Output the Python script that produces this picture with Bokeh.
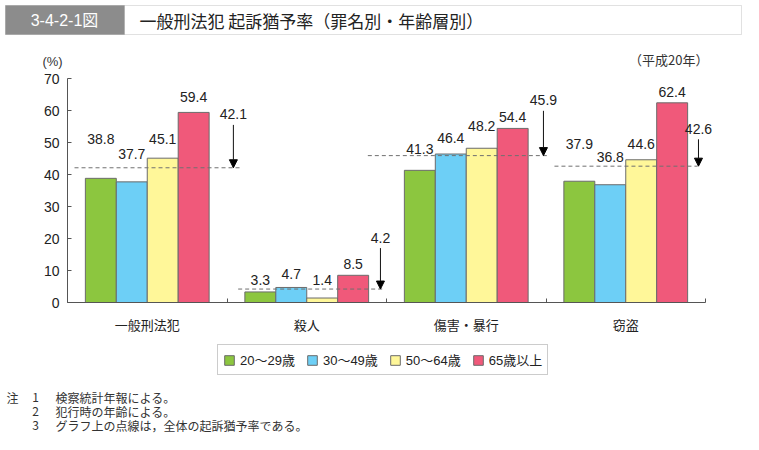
import numpy as np
from bokeh.plotting import figure
from bokeh.models import (Range1d, FixedTicker, ColumnDataSource, LabelSet, Label,
                          BoxAnnotation, Arrow, NormalHead, Legend, LegendItem)
from bokeh.core.properties import value
from bokeh.embed import file_html
from bokeh.resources import INLINE

# ---------------- data ----------------
categories = ["一般刑法犯", "殺人", "傷害・暴行", "窃盗"]
age_groups = ["20～29歳", "30～49歳", "50～64歳", "65歳以上"]
rate_20_29 = [38.8, 3.3, 41.3, 37.9]
rate_30_49 = [37.7, 4.7, 46.4, 36.8]
rate_50_64 = [45.1, 1.4, 48.2, 44.6]
rate_65_up = [59.4, 8.5, 54.4, 62.4]
overall_rate = [42.1, 4.2, 45.9, 42.6]
y_ticks = [0, 10, 20, 30, 40, 50, 60, 70]

series = [rate_20_29, rate_30_49, rate_50_64, rate_65_up]
colors = ["#8CC63F", "#6DCFF6", "#FFF799", "#F0597A"]

# ---------------- layout parameters ----------------
W, H = 743, 434
OFF = 0                                    # picture offset of the figure
PL, PR, PT, PB = 67, 705, 78, 302          # plot area in reference pixels
bar_w = 0.194
value_label_y = [[51.2, 6.9, 48.0, 49.4],
                 [46.5, 9.0, 51.4, 45.4],
                 [51.2, 6.9, 55.3, 49.4],
                 [64.2, 11.9, 57.9, 65.7]]
dash_x0 = [0.044, 0.07, -0.117, 0.053]     # offsets from category left edge
dash_x1 = [1.09, 0.975, 1.016, 0.95]
arrow_dx = [1.04, 0.962, 0.984, 0.956]
arrow_len = [13.4, 12.8, 14.0, 8.4]

NUM_FONT = "'Liberation Sans', 'Noto Sans CJK JP'"
JP_FONT = "'Noto Sans CJK JP'"

n_cat = len(categories)
px_x = (PR - PL) / float(n_cat)
px_y = (PB - PT) / 70.0
x_start = -(PL - OFF) / px_x
x_end = n_cat + (OFF + W - PR) / px_x
y_start = -(OFF + H - PB) / px_y
y_end = 70 + (PT - OFF) / px_y

def dx(rx):
    return x_start + (rx - OFF) / px_x
def dy(ry):
    return y_end - (ry - OFF) / px_y

p = figure(width=W, height=H, output_backend="svg", toolbar_location=None,
           x_range=Range1d(x_start, x_end), y_range=Range1d(y_start, y_end),
           min_border=0, min_border_left=0, min_border_right=0,
           min_border_top=0, min_border_bottom=0)
p.outline_line_color = None
p.xgrid.visible = False
p.ygrid.visible = False
p.background_fill_color = "white"
p.border_fill_color = "white"

cat_idx = np.arange(n_cat)
renderers = []
for j, vals in enumerate(series):
    src = ColumnDataSource(dict(x=cat_idx + 0.5 + (j - 1.5) * bar_w, top=vals))
    r = p.vbar(x="x", top="top", bottom=0, width=bar_w, source=src, fill_color=colors[j],
               line_color="#6b6b6b", line_width=1)
    renderers.append(r)
    lsrc = ColumnDataSource(dict(x=cat_idx + 0.5 + (j - 1.5) * bar_w,
                                 y=value_label_y[j],
                                 t=["%.1f" % v for v in vals]))
    p.add_layout(LabelSet(x="x", y="y", text="t", source=lsrc, text_align="center",
                          text_baseline="middle", text_font=value(NUM_FONT),
                          text_font_size="14px", text_color="#222222"))

# overall dashed lines
dsrc = ColumnDataSource(dict(x0=cat_idx + np.array(dash_x0), x1=cat_idx + np.array(dash_x1),
                             y=overall_rate))
p.segment(x0="x0", y0="y", x1="x1", y1="y", source=dsrc, line_color="#707070",
          line_width=1, line_dash="4 3")

# arrows + overall labels
ax = cat_idx + np.array(arrow_dx)
atop = np.array(overall_rate) + np.array(arrow_len)
asrc = ColumnDataSource(dict(x=ax, y0=atop, y1=overall_rate))
p.add_layout(Arrow(end=NormalHead(size=8, fill_color="black", line_color="black"),
                   x_start="x", y_start="y0", x_end="x", y_end="y1", source=asrc,
                   line_color="#111111", line_width=1))
olsrc = ColumnDataSource(dict(x=ax, y=atop + 3.3, t=["%.1f" % v for v in overall_rate]))
p.add_layout(LabelSet(x="x", y="y", text="t", source=olsrc, text_align="center",
                      text_baseline="middle", text_font=value(NUM_FONT),
                      text_font_size="14px", text_color="#222222"))

# axes (fixed inside the full-canvas frame)
p.yaxis.fixed_location = 0
p.yaxis.bounds = (0, 70)
p.yaxis.ticker = FixedTicker(ticks=y_ticks)
p.yaxis.major_tick_in = 4
p.yaxis.major_tick_out = 0
p.yaxis.minor_tick_line_color = None
p.yaxis.axis_line_color = "#555555"
p.yaxis.major_tick_line_color = "#555555"
p.yaxis.major_label_text_font = "Liberation Sans"
p.yaxis.major_label_text_font_size = "14px"
p.yaxis.major_label_text_color = "#222222"
p.yaxis.major_label_standoff = 8

centers = [float(i) + 0.5 for i in cat_idx]
p.xaxis.fixed_location = 0
p.xaxis.bounds = (0, n_cat)
p.xaxis.ticker = FixedTicker(ticks=centers, minor_ticks=[float(i) for i in range(n_cat + 1)])
p.xaxis.major_label_overrides = {c: categories[i] for i, c in enumerate(centers)}
p.xaxis.major_tick_line_color = None
p.xaxis.major_tick_in = 0
p.xaxis.major_tick_out = 0
p.xaxis.minor_tick_in = 4
p.xaxis.minor_tick_out = 0
p.xaxis.minor_tick_line_color = "#555555"
p.xaxis.axis_line_color = "#555555"
p.xaxis.major_label_text_font = JP_FONT
p.xaxis.major_label_text_font_size = "13px"
p.xaxis.major_label_text_color = "#222222"
p.xaxis.major_label_standoff = 12

# legend
legend = Legend(items=[LegendItem(label=age_groups[j], renderers=[renderers[j]]) for j in range(4)],
                orientation="horizontal", location=(217 - OFF, H - (375 - OFF)),
                glyph_width=12, glyph_height=12, label_standoff=5, spacing=11, padding=5,
                margin=0, label_height=15, label_text_font=NUM_FONT, label_text_font_size="13px",
                label_text_color="#222222", border_line_color="#999999", border_line_width=1,
                background_fill_color="white", background_fill_alpha=1)
p.add_layout(legend, "center")

# title band
p.add_layout(BoxAnnotation(left=dx(5), right=dx(741), top=dy(5), bottom=dy(34),
                           fill_color="white", fill_alpha=1, line_color="#9a9a9a", line_width=1))
p.add_layout(BoxAnnotation(left=dx(5), right=dx(124), top=dy(5), bottom=dy(34),
                           fill_color="#8c8c8c", fill_alpha=1, line_color="#8c8c8c", line_width=1))
p.add_layout(Label(x=dx(64), y=dy(19.5), text="3-4-2-1図", text_align="center",
                   text_baseline="middle", text_font=NUM_FONT, text_font_size="16px",
                   text_color="white"))
p.add_layout(Label(x=dx(139), y=dy(19.5), text="一般刑法犯 起訴猶予率（罪名別・年齢層別）",
                   text_align="left", text_baseline="middle", text_font=JP_FONT,
                   text_font_size="17px", text_color="#222222"))

p.add_layout(Label(x=dx(708), y=dy(59), text="（平成20年）", text_align="right",
                   text_baseline="middle", text_font=JP_FONT, text_font_size="13px",
                   text_color="#333333"))
p.add_layout(Label(x=dx(52), y=dy(61), text="(%)", text_align="center",
                   text_baseline="middle", text_font=NUM_FONT, text_font_size="13px",
                   text_color="#333333"))

notes_num = ["1", "2", "3"]
notes_txt = ["検察統計年報による。", "犯行時の年齢による。", "グラフ上の点線は，全体の起訴猶予率である。"]
notes_y = [397, 411, 425]
p.add_layout(Label(x=dx(6), y=dy(notes_y[0]), text="注", text_align="left", text_baseline="middle",
                   text_font=JP_FONT, text_font_size="12px", text_color="#333333"))
for k in range(3):
    p.add_layout(Label(x=dx(35), y=dy(notes_y[k]), text=notes_num[k], text_align="center",
                       text_baseline="middle", text_font=JP_FONT, text_font_size="12px",
                       text_color="#333333"))
    p.add_layout(Label(x=dx(55), y=dy(notes_y[k]), text=notes_txt[k], text_align="left",
                       text_baseline="middle", text_font=JP_FONT, text_font_size="12px",
                       text_color="#333333"))

open("out.html", "w").write(file_html(p, INLINE))
